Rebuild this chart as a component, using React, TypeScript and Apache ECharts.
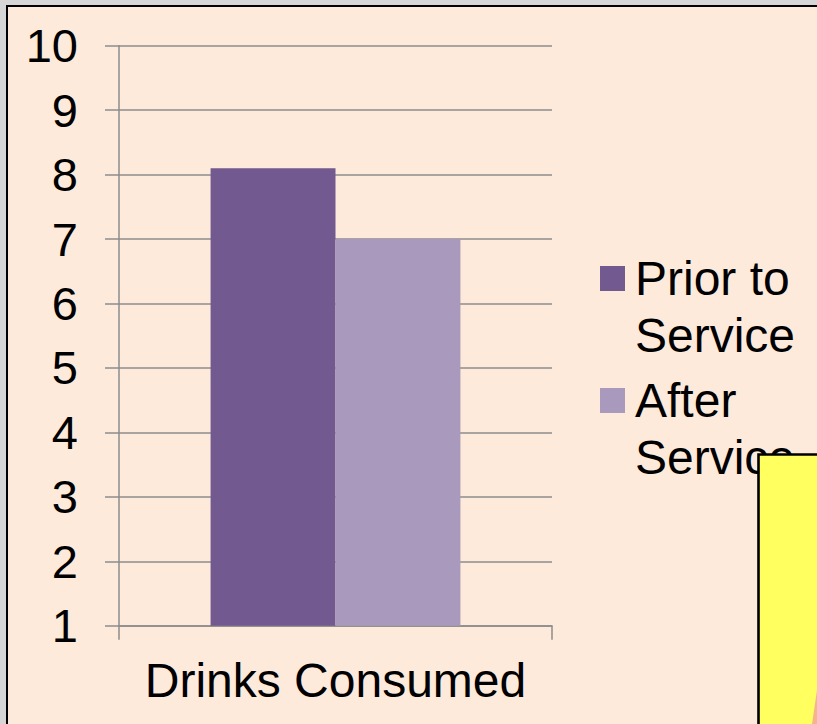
import React, { useEffect, useRef } from "react";
import * as echarts from "echarts";

const categories = ["Drinks Consumed"];
const seriesNames = ["Prior to Service", "After Service"];
const priorValues = [8.1];
const afterValues = [7.0];
const yMin = 1;
const yMax = 10;
const yInterval = 1;

const FONT = "'Liberation Sans', Arial, sans-serif";
const GRID_COLOR = "#8c8c8c";

export default function App() {
  const ref = useRef<HTMLDivElement>(null);
  useEffect(() => {
    document.body.style.margin = "0";
    const chart = echarts.init(ref.current!, null, { renderer: "svg" });
    chart.setOption({
      animation: false,
      backgroundColor: "#d6d6d6",
      graphic: [
        {
          type: "rect",
          z: -10,
          shape: { x: 7, y: 6, width: 830, height: 740 },
          style: { fill: "#FDEADB", stroke: "#000", lineWidth: 2 },
        },
        {
          type: "rect",
          z: 100,
          shape: { x: 758.5, y: 454.5, width: 80, height: 300 },
          style: { fill: "#FFFF5F", stroke: "#000", lineWidth: 2.6 },
        },
        {
          type: "polygon",
          z: 101,
          shape: { points: [[817, 690], [817, 724], [812, 724]] },
          style: { fill: "#F5B48E" },
        },
      ],
      grid: { left: 119, right: 265, top: 45.7, bottom: 98.3, containLabel: false },
      legend: {
        orient: "vertical",
        left: 595,
        top: 188,
        itemWidth: 25,
        itemHeight: 25,
        itemGap: -49,
        icon: "rect",
        data: seriesNames,
        formatter: (name: string) => "\n" + name.replace(" Service", "\nService"),
        textStyle: {
          fontFamily: FONT,
          fontSize: 48,
          color: "#000",
          lineHeight: 57,
          padding: [0, 0, 0, 5],
        },
      },
      xAxis: {
        type: "category",
        data: categories,
        axisLine: { show: true, lineStyle: { color: GRID_COLOR, width: 1.5 } },
        axisTick: { show: true, length: 14, lineStyle: { color: GRID_COLOR, width: 1.5 } },
        axisLabel: { fontFamily: FONT, fontSize: 48, color: "#000", margin: 31 },
        splitLine: { show: false },
      },
      yAxis: {
        type: "value",
        min: yMin,
        max: yMax,
        interval: yInterval,
        axisLine: { show: true, lineStyle: { color: GRID_COLOR, width: 1.5 } },
        axisTick: { show: true, length: 14, lineStyle: { color: GRID_COLOR, width: 1.5 } },
        axisLabel: { fontFamily: FONT, fontSize: 47, color: "#000", margin: 41 },
        splitLine: { show: true, lineStyle: { color: GRID_COLOR, width: 1.5 } },
      },
      series: [
        {
          name: seriesNames[0],
          type: "bar",
          data: priorValues,
          barGap: "0%",
          barCategoryGap: "42.3%",
          itemStyle: { color: "#72598F" },
        },
        {
          name: seriesNames[1],
          type: "bar",
          data: afterValues,
          barGap: "0%",
          barCategoryGap: "42.3%",
          itemStyle: { color: "#A99ABD" },
        },
      ],
    });
    return () => chart.dispose();
  }, []);
  return (
    <div
      ref={ref}
      style={{ position: "absolute", left: 0, top: 0, width: 817, height: 724 }}
    />
  );
}
